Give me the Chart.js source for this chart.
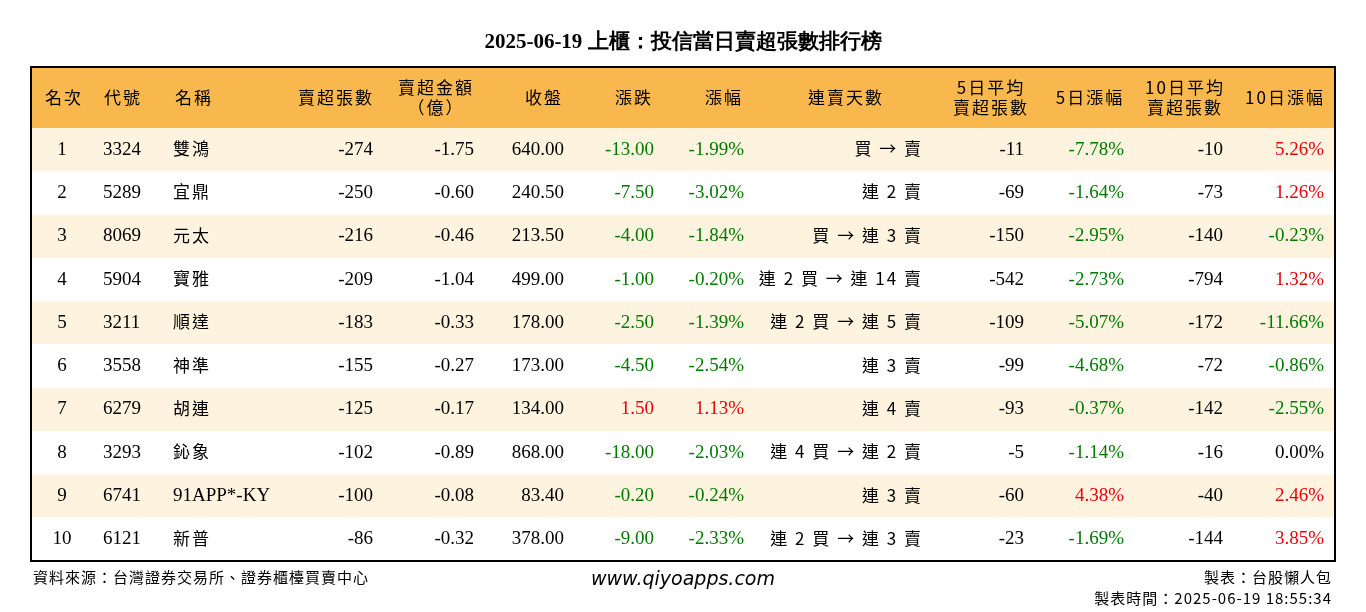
<!DOCTYPE html>
<html><head><meta charset="utf-8">
<script src="https://cdn.jsdelivr.net/npm/chart.js@4"></script>
<style>html,body{margin:0;background:#fff}#wrap{width:1366px;height:612px}</style>
</head><body><div id="wrap"><canvas id="c"></canvas></div>
<script>
const ranks = [1,2,3,4,5,6,7,8,9,10];
const codes = ['3324','5289','8069','5904','3211','3558','6279','3293','6741','6121'];
const names = ['雙鴻','宜鼎','元太','寶雅','順達','神準','胡連','鈊象','91APP*-KY','新普'];
const netSell = [-274,-250,-216,-209,-183,-155,-125,-102,-100,-86];
const amount = [-1.75,-0.60,-0.46,-1.04,-0.33,-0.27,-0.17,-0.89,-0.08,-0.32];
const closes = [640.00,240.50,213.50,499.00,178.00,173.00,134.00,868.00,83.40,378.00];
const change = [-13.00,-7.50,-4.00,-1.00,-2.50,-4.50,1.50,-18.00,-0.20,-9.00];
const changePct = [-1.99,-3.02,-1.84,-0.20,-1.39,-2.54,1.13,-2.03,-0.24,-2.33];
const streak = ['買 → 賣','連 2 賣','買 → 連 3 賣','連 2 買 → 連 14 賣','連 2 買 → 連 5 賣','連 3 賣','連 4 賣','連 4 買 → 連 2 賣','連 3 賣','連 2 買 → 連 3 賣'];
const avg5 = [-11,-69,-150,-542,-109,-99,-93,-5,-60,-23];
const pct5 = [-7.78,-1.64,-2.95,-2.73,-5.07,-4.68,-0.37,-1.14,4.38,-1.69];
const avg10 = [-10,-73,-140,-794,-172,-72,-142,-16,-40,-144];
const pct10 = [5.26,1.26,-0.23,1.32,-11.66,-0.86,-2.55,0.00,2.46,3.85];
const headers = [['名次'],['代號'],['名稱'],['賣超張數'],['賣超金額','（億）'],['收盤'],['漲跌'],['漲幅'],['連賣天數'],['5日平均','賣超張數'],['5日漲幅'],['10日平均','賣超張數'],['10日漲幅']];

// column anchor x and alignment, header center x
const colX = [62,103,173,373,474,564,654,744,921,1024,1124,1223,1324];
const colAlign = ['center','left','left','right','right','right','right','right','right','right','right','right','right'];
const headX = [63,122,193,335,435,543,633,723,845,990,1089,1184,1284];

const GREEN = '#007a00', RED = '#e8000b';
const SERIF = '"Liberation Serif","DejaVu Serif",serif';
const CJK = '"Noto Sans CJK TC","Noto Sans CJK SC",sans-serif';
const signColor = v => v < 0 ? GREEN : (v > 0 ? RED : '#000');

function cells(i) {
  return [
    [String(ranks[i]), '#000'],
    [codes[i], '#000'],
    [names[i], '#000'],
    [String(netSell[i]), '#000'],
    [amount[i].toFixed(2), '#000'],
    [closes[i].toFixed(2), '#000'],
    [change[i].toFixed(2), signColor(change[i])],
    [changePct[i].toFixed(2) + '%', signColor(changePct[i])],
    [streak[i], '#000'],
    [String(avg5[i]), '#000'],
    [pct5[i].toFixed(2) + '%', signColor(pct5[i])],
    [String(avg10[i]), '#000'],
    [pct10[i].toFixed(2) + '%', signColor(pct10[i])]
  ];
}

const tablePlugin = {
  id: 'table',
  beforeDatasetsDraw(chart) {
    const ctx = chart.ctx, x = chart.scales.x, y = chart.scales.y;
    const L = x.getPixelForValue(31), R = x.getPixelForValue(1335);
    const hTop = y.getPixelForValue(y.min), hBot = y.getPixelForValue(-0.5);
    ctx.save();
    ctx.fillStyle = '#f8b84e';
    ctx.fillRect(L, hTop, R - L, hBot - hTop);
    ranks.forEach((r, i) => {
      const t = y.getPixelForValue(i - 0.5), b = y.getPixelForValue(i + 0.5);
      ctx.fillStyle = i % 2 === 0 ? '#fdf3de' : '#ffffff';
      ctx.fillRect(L, t, R - L, b - t);
    });
    ctx.strokeStyle = '#000'; ctx.lineWidth = 2;
    ctx.strokeRect(L, hTop, R - L, y.getPixelForValue(y.max) - hTop);
    ctx.textBaseline = 'middle';
    // header
    ctx.font = '17px ' + CJK; ctx.fillStyle = '#000'; ctx.textAlign = 'center';
    ctx.letterSpacing = '2px';
    const hc = (hTop + hBot) / 2;
    headers.forEach((h, c) => {
      const hx = x.getPixelForValue(headX[c]) + 1;
      if (h.length === 1) ctx.fillText(h[0], hx, hc);
      else { ctx.fillText(h[0], hx, hc - 10); ctx.fillText(h[1], hx, hc + 10); }
    });
    // body
    ranks.forEach((r, i) => {
      const cy = y.getPixelForValue(i);
      cells(i).forEach(([txt, col], c) => {
        ctx.fillStyle = col;
        ctx.textAlign = colAlign[c];
        const cjk = /[\u3400-\u9fff]/.test(txt);
        ctx.font = cjk ? '17px ' + CJK : '19px ' + SERIF;
        ctx.letterSpacing = cjk ? '2px' : '0px';
        const dx = cjk && colAlign[c] === 'right' ? 2 : 0;
        ctx.fillText(txt, x.getPixelForValue(colX[c]) + dx, cy - (cjk ? 1 : 0));
      });
    });
    ctx.letterSpacing = '0px';
    // title and footer
    ctx.fillStyle = '#000'; ctx.textAlign = 'center';
    ctx.font = 'bold 21px ' + SERIF;
    ctx.fillText('2025-06-19 上櫃：投信當日賣超張數排行榜', 683, 43);
    ctx.font = '15px ' + CJK; ctx.textAlign = 'left';
    ctx.letterSpacing = '1px';
    ctx.fillText('資料來源：台灣證券交易所、證券櫃檯買賣中心', 33, 577);
    ctx.textAlign = 'right';
    ctx.fillText('製表：台股懶人包', 1332, 577);
    ctx.fillText('製表時間：2025-06-19 18:55:34', 1332, 598);
    ctx.letterSpacing = '0px';
    ctx.textAlign = 'center';
    ctx.font = 'italic 19px "DejaVu Sans",sans-serif';
    ctx.fillText('www.qiyoapps.com', 683, 580);
    ctx.restore();
  }
};

new Chart(document.getElementById('c'), {
  type: 'scatter',
  data: { datasets: [{ data: ranks.map((r, i) => ({ x: colX[0], y: i })), pointRadius: 0 }] },
  options: {
    responsive: true, maintainAspectRatio: false, animation: false,
    layout: { padding: { top: 67, bottom: 51, left: 31, right: 31 } },
    plugins: { legend: { display: false }, tooltip: { enabled: false } },
    scales: {
      x: { type: 'linear', display: false, min: 31, max: 1335 },
      y: { type: 'linear', display: false, reverse: true, min: -1.91, max: 9.5 }
    }
  },
  plugins: [tablePlugin]
});
</script></body></html>
